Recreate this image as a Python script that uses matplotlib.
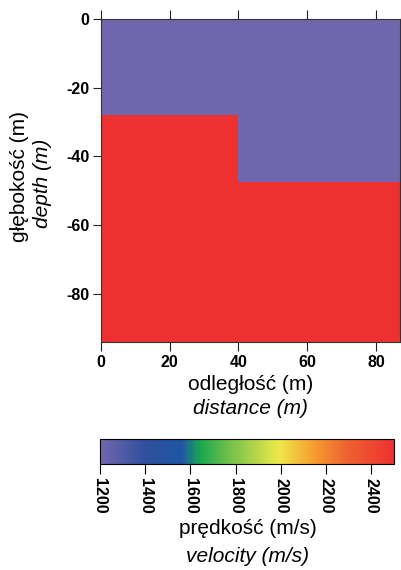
import numpy as np
import matplotlib
matplotlib.use("Agg")
import matplotlib.pyplot as plt
from matplotlib.colors import LinearSegmentedColormap, Normalize

plt.rcParams['font.family'] = ['Liberation Sans', 'DejaVu Sans']
plt.rcParams['axes.unicode_minus'] = False

# model data: layer boundaries and velocities
x_edges = [0, 40, 87]               # [m] distance
depth_edges = [0, -28, -47.5, -94]  # [m] depth
velocity = [[1200, 1200],
            [2500, 1200],
            [2500, 2500]]           # [m/s]

x_ticks = [0, 20, 40, 60, 80]
y_ticks = [0, -20, -40, -60, -80]
v_min, v_max = 1200, 2500
cbar_ticks = [1200, 1400, 1600, 1800, 2000, 2200, 2400]

# colour scale
cmap_stops = [(1200, '#7066ae'), (1400, '#2f4f9c'), (1560, '#1f55a4'),
              (1640, '#16a650'), (1760, '#6cbe4a'), (1990, '#eee84a'),
              (2140, '#f5a030'), (2300, '#ee6030'), (2500, '#ee3030')]
cmap = LinearSegmentedColormap.from_list(
    'vel', [((v - v_min) / (v_max - v_min), c) for v, c in cmap_stops])
norm = Normalize(v_min, v_max)

fig = plt.figure(figsize=(4.01, 5.70), dpi=100)
ax = fig.add_axes([101/401, 1-342/570, 299/401, 323/570])
ax.pcolormesh(x_edges, depth_edges, np.array(velocity), cmap=cmap, norm=norm)
ax.set_xlim(0, 87)
ax.set_ylim(-94, 0)
ax.set_xticks(x_ticks)
ax.set_yticks(y_ticks)
ax.tick_params(axis='both', direction='out', length=5.5, width=0.8,
               labelsize=11.5, colors='#222222', labelcolor='black', pad=3)
ax.tick_params(axis='x', top=True, labeltop=False, length=6.5)
for lab in ax.get_xticklabels() + ax.get_yticklabels():
    lab.set_fontweight('bold')
for s in ax.spines.values():
    s.set_linewidth(0.8)
    s.set_color('#333333')

fig.text(0.5 * (101 + 400) / 401, 1 - 384/570, 'odległość (m)',
         ha='center', va='center', fontsize=15)
fig.text(0.5 * (101 + 400) / 401, 1 - 409/570, 'distance (m)',
         ha='center', va='center', fontsize=15, style='italic')
fig.text(20/401, 1 - 176/570, 'głębokość (m)', rotation=90,
         ha='center', va='center', fontsize=15)
fig.text(43/401, 1 - 183/570, 'depth (m)', rotation=90,
         ha='center', va='center', fontsize=15, style='italic')

cax = fig.add_axes([100/401, 1-464/570, 294/401, 25/570])
sm = plt.cm.ScalarMappable(norm=norm, cmap=cmap)
cb = fig.colorbar(sm, cax=cax, orientation='horizontal', ticks=cbar_ticks)
cb.outline.set_linewidth(0.8)
cax.tick_params(direction='out', length=7, width=0.8, labelsize=11.5, pad=3)
for lab in cax.get_xticklabels():
    lab.set_rotation(-90)
    lab.set_fontweight('bold')

fig.text(248/401, 1 - 529/570, 'prędkość (m/s)',
         ha='center', va='center', fontsize=15)
fig.text(248/401, 1 - 556/570, 'velocity (m/s)',
         ha='center', va='center', fontsize=15, style='italic')

fig.savefig('out.png', dpi=100)
